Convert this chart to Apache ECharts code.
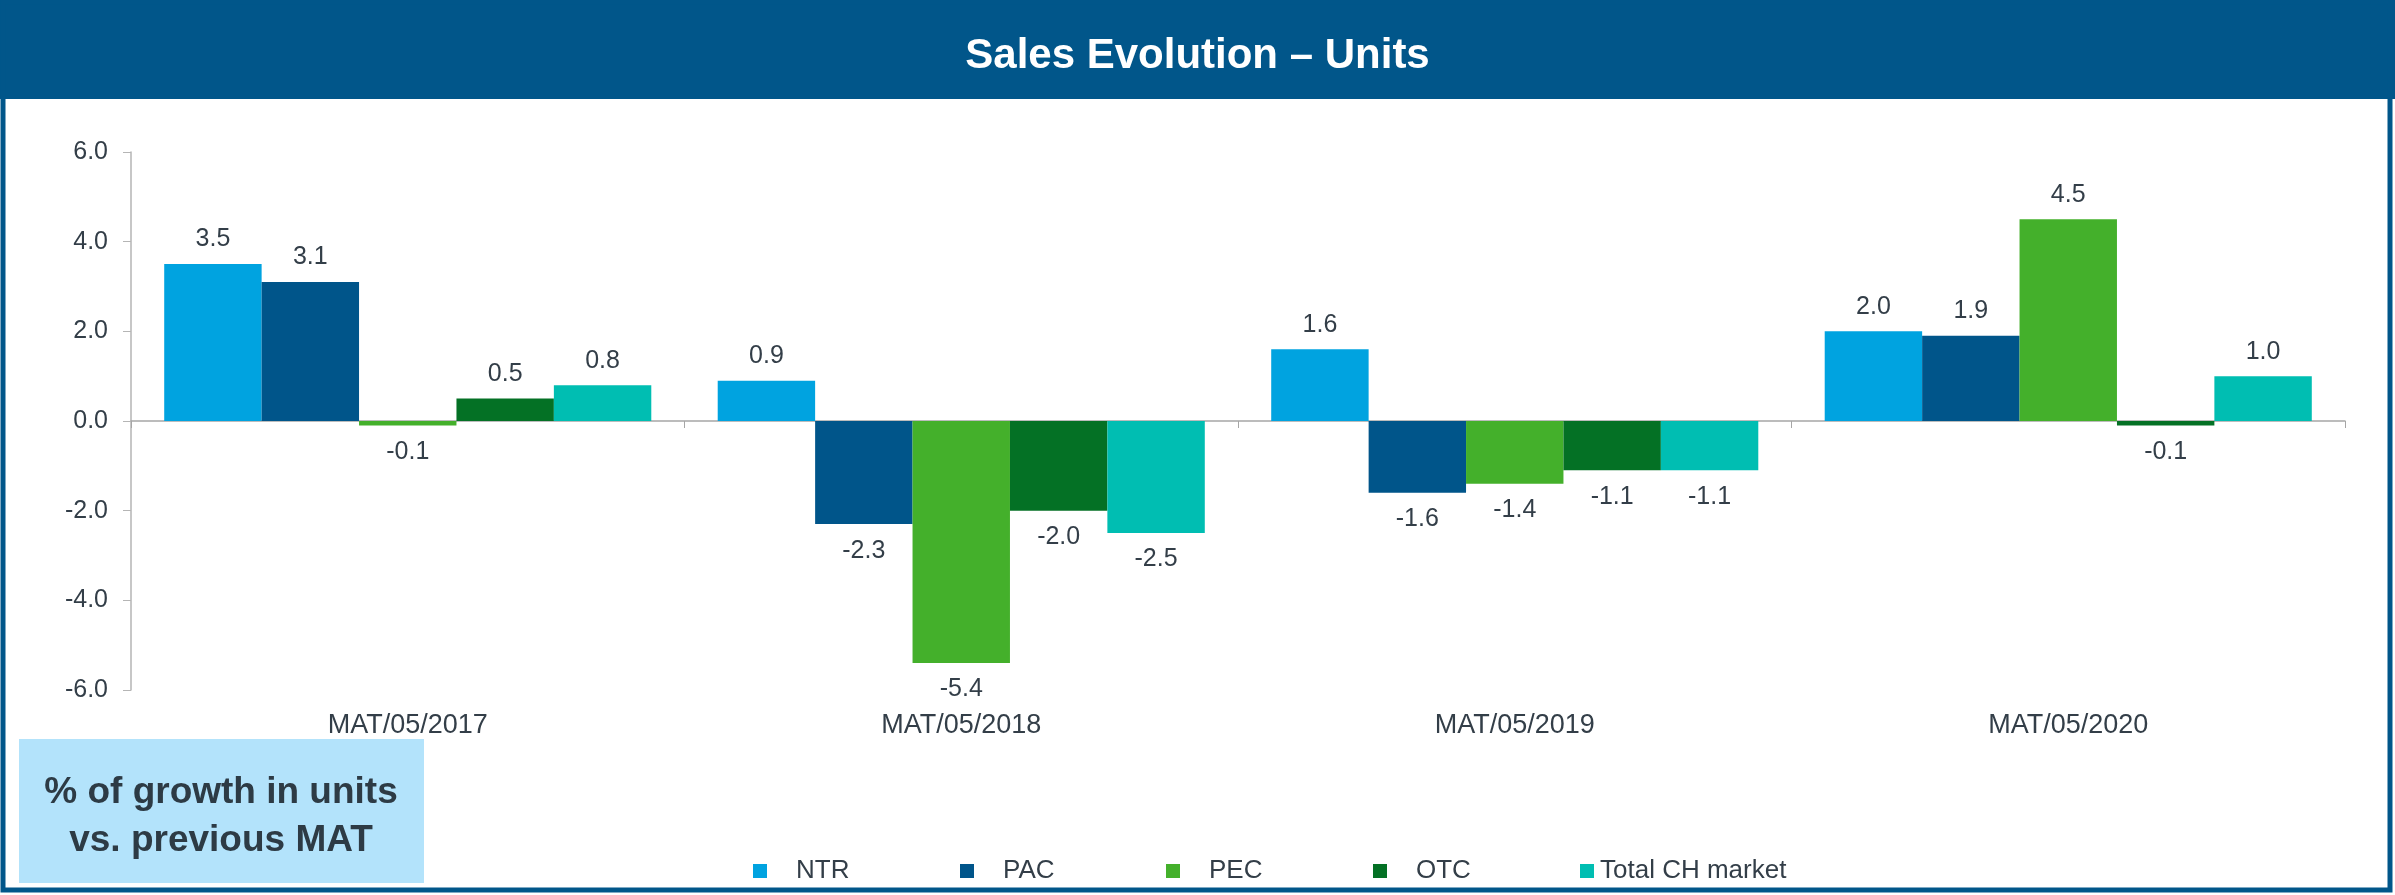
<!DOCTYPE html>
<html>
<head>
<meta charset="utf-8">
<script src="https://cdn.jsdelivr.net/npm/echarts@6/dist/echarts.min.js"></script>
<style>
  html, body { margin: 0; padding: 0; background: #ffffff; }
  #chart { width: 2395px; height: 895px; }
</style>
</head>
<body>
<div id="chart"></div>
<script>
// ---- Data ----
const categories = ['MAT/05/2017', 'MAT/05/2018', 'MAT/05/2019', 'MAT/05/2020'];
const seriesNames = ['NTR', 'PAC', 'PEC', 'OTC', 'Total CH market'];
const ntrValues = [3.5, 0.9, 1.6, 2.0];
const pacValues = [3.1, -2.3, -1.6, 1.9];
const pecValues = [-0.1, -5.4, -1.4, 4.5];
const otcValues = [0.5, -2.0, -1.1, -0.1];
const totalValues = [0.8, -2.5, -1.1, 1.0];
const yMin = -6, yMax = 6, yInterval = 2;
const titleText = 'Sales Evolution \u2013 Units';
const noteText = '% of growth in units\nvs. previous MAT';

// ---- Styles ----
const colors = ['#00A3E0', '#00558A', '#44B02B', '#047125', '#00BEB2'];
const textColor = '#333E48';
const font = 'Liberation Sans, Arial, sans-serif';
const legendLefts = [753, 960, 1166, 1373, 1580];
const legendTextPad = [24, 24, 24, 24, 1];

const allValues = [ntrValues, pacValues, pecValues, otcValues, totalValues];

const series = seriesNames.map((name, i) => ({
  name: name,
  type: 'bar',
  xAxisIndex: 0,
  barGap: '0%',
  barCategoryGap: '12%',
  itemStyle: { color: colors[i] },
  label: {
    show: true,
    fontSize: 25,
    fontFamily: font,
    color: textColor,
    distance: 12,
    formatter: p => Number(p.value).toFixed(1)
  },
  data: allValues[i].map(v => ({
    value: v,
    label: { position: v >= 0 ? 'top' : 'bottom', distance: v >= 0 ? 12 : 14 }
  }))
}));

const legends = seriesNames.map((name, i) => ({
  data: [name],
  left: legendLefts[i],
  top: 858,
  padding: 0,
  icon: 'rect',
  itemWidth: 14,
  itemHeight: 14,
  selectedMode: false,
  textStyle: { fontSize: 26, fontFamily: font, color: textColor, padding: [0, 0, 0, legendTextPad[i]] }
}));

const chart = echarts.init(document.getElementById('chart'), null, { renderer: 'canvas' });
chart.setOption({
  animation: false,
  backgroundColor: '#ffffff',
  title: {
    text: titleText,
    left: 'center',
    top: 30,
    textStyle: { color: '#ffffff', fontSize: 42, fontWeight: 'bold', fontFamily: font }
  },
  graphic: [
    { type: 'rect', z: -10, shape: { x: 0, y: 0, width: 2395, height: 99 }, style: { fill: '#01568A' } },
    { type: 'rect', z: -10, shape: { x: 3, y: 2, width: 2387, height: 888 }, style: { fill: null, stroke: '#01568A', lineWidth: 5 } },
    { type: 'rect', z: -5, shape: { x: 19, y: 739, width: 405, height: 144 }, style: { fill: '#B3E3FB' } },
    { type: 'text', z: -4, x: 221, y: 817,
      style: { text: noteText, fill: '#2D3B45', font: 'bold 37px ' + font, textAlign: 'center', textVerticalAlign: 'middle', lineHeight: 48 } }
  ],
  legend: legends,
  grid: { left: 131, right: 50, top: 152, bottom: 205, containLabel: false },
  xAxis: [
    {
      type: 'category',
      data: categories,
      position: 'bottom',
      axisLine: { show: true, onZero: true, lineStyle: { color: '#A6A6A6', width: 1.5 } },
      axisTick: { show: true, length: 7, lineStyle: { color: '#A6A6A6' } },
      axisLabel: { show: false }
    },
    {
      type: 'category',
      data: categories,
      position: 'bottom',
      axisLine: { show: false, onZero: false },
      axisTick: { show: false },
      axisLabel: { show: true, margin: 22, fontSize: 27, fontFamily: font, color: textColor }
    }
  ],
  yAxis: {
    type: 'value',
    min: yMin,
    max: yMax,
    interval: yInterval,
    axisLine: { show: true, lineStyle: { color: '#B5B5B5', width: 1.5 } },
    axisTick: { show: true, length: 8, lineStyle: { color: '#B5B5B5' } },
    splitLine: { show: false },
    axisLabel: { margin: 23, fontSize: 25, fontFamily: font, color: textColor, formatter: v => v.toFixed(1) }
  },
  series: series
});
</script>
</body>
</html>
